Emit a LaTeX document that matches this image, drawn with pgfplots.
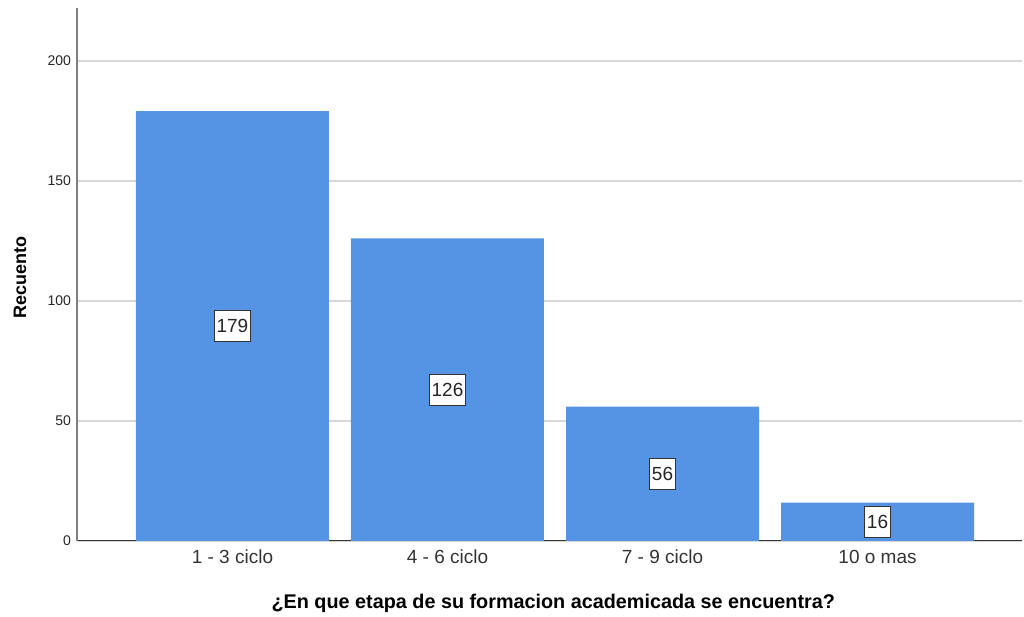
\documentclass[border=0pt]{standalone}
\usepackage{pgfplots}
\usepackage{pgfplotstable}
\pgfplotsset{compat=1.18}
\usepackage{fontspec}
\setmainfont{Liberation Sans}
\definecolor{barblue}{RGB}{85,148,228}
\definecolor{gridgray}{RGB}{215,215,215}
\pgfplotstableread{
x y
0 179
1 126
2 56
3 16
}\datatable
\begin{document}
\begin{tikzpicture}[x=1pt,y=1pt]
\begin{axis}[
  scale only axis, width=945pt, height=533pt,
  xmin=-0.723, xmax=3.672, ymin=0, ymax=222,
  axis x line*=bottom, axis y line*=left,
  x axis line style={draw=black!80, line width=1pt},
  y axis line style={draw=black!50, line width=1.2pt},
  ytick={0,50,100,150,200},
  xtick={0,1,2,3},
  xticklabels={1 - 3 ciclo, 4 - 6 ciclo, 7 - 9 ciclo, 10 o mas},
  major tick length=0pt,
  ymajorgrids, grid style={draw=gridgray, line width=1.5pt},
  /pgf/number format/assume math mode=true,
  yticklabel style={font=\fontsize{14}{14}\selectfont, xshift=-2.5pt, text=black!85},
  xticklabel style={font=\fontsize{19}{19}\selectfont, yshift=-5.5pt, text=black!80},
  xlabel={¿En que etapa de su formacion academicada se encuentra?},
  ylabel={Recuento},
  xlabel style={at={(axis description cs:0.504,-0.1163)}, anchor=center, font=\bfseries\fontsize{19.8}{20}\selectfont},
  ylabel style={at={(axis description cs:-0.0603,0.495)}, anchor=center, font=\bfseries\fontsize{18}{18}\selectfont},
  clip=false,
]
\addplot[ybar, fill=barblue, draw=none, bar width=193pt, bar shift=0pt] table[x=x,y=y]{\datatable};
\addplot[draw=none, mark=none, nodes near coords, point meta=explicit symbolic,
  nodes near coords style={anchor=center, fill=white, draw=black!80, line width=1pt,
    font=\fontsize{19}{19}\selectfont, text=black!85, inner xsep=2.5pt, inner ysep=0pt, minimum height=31pt}]
  table[x=x, y expr=\thisrow{y}/2, meta=y]{\datatable};
\end{axis}
\path (-77,-76) rectangle (947,541);
\end{tikzpicture}
\end{document}
